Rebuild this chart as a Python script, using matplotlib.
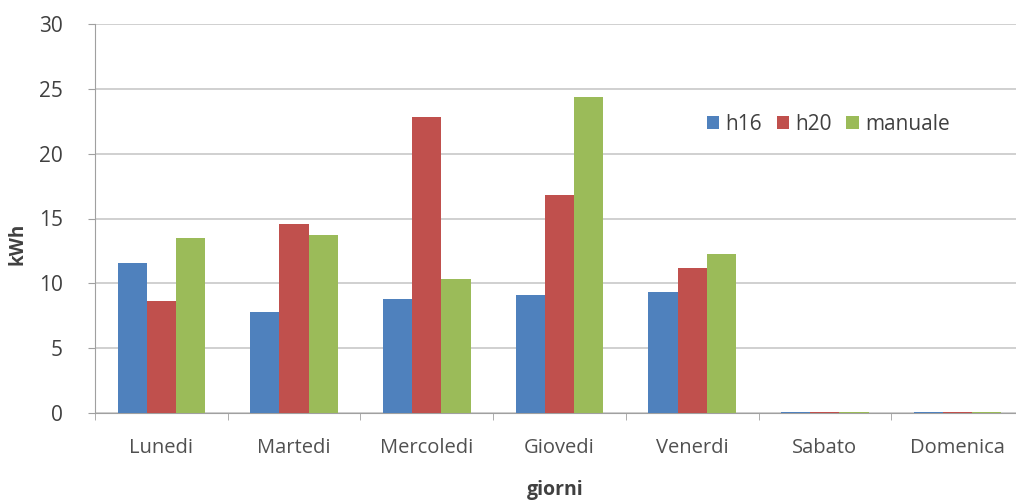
import matplotlib
matplotlib.use("Agg")
import matplotlib.pyplot as plt
import numpy as np

days = ["Lunedi", "Martedi", "Mercoledi", "Giovedi", "Venerdi", "Sabato", "Domenica"]
h16 = [11.6, 7.8, 8.8, 9.1, 9.3, 0.1, 0.1]
h20 = [8.6, 14.6, 22.8, 16.8, 11.2, 0.1, 0.1]
manuale = [13.5, 13.7, 10.3, 24.4, 12.3, 0.1, 0.1]
series_names = ["h16", "h20", "manuale"]
colors = ["#4f81bd", "#c0504d", "#9bbb59"]

plt.rcParams['font.family'] = ['Open Sans', 'DejaVu Sans']

fig = plt.figure(figsize=(10.16, 5.03), dpi=100)
ax = fig.add_axes([95/1016, 1-413/503, 1-95/1016, (413-24)/503])

x = np.arange(len(days))
w = 0.22
for i, (vals, name, c) in enumerate(zip([h16, h20, manuale], series_names, colors)):
    ax.bar(x + (i-1)*w, vals, width=w, color=c, label=name, zorder=3)

ax.set_xlim(-0.5, 6.44)
ax.set_ylim(0, 30)
ax.set_yticks(range(0, 31, 5))
ax.set_xticks(x)
ax.set_xticklabels(days)
ax.yaxis.grid(True, color="#c8c8c8", linewidth=1.2, zorder=0)
ax.set_axisbelow(True)
for s in ["top", "right"]:
    ax.spines[s].set_visible(False)
ax.spines["left"].set_color("#a0a0a0")
ax.spines["bottom"].set_color("#a0a0a0")
ax.tick_params(axis="y", length=5, color="#a0a0a0", labelsize=15, labelcolor="#404040", pad=18)
ax.tick_params(axis="x", length=0, labelsize=14.5, labelcolor="#505050", pad=18)
ax.set_xticks(np.arange(-0.5, 6.5, 1), minor=True)
ax.tick_params(axis="x", which="minor", length=5, color="#a0a0a0")

fig.text(18/1016, 1-244/503, "kWh", rotation=90, fontsize=13.5, fontweight="bold",
         color="#404040", ha="center", va="center")
fig.text(555/1016, 1-490/503, "giorni", fontsize=14, fontweight="bold",
         color="#404040", ha="center", va="center")

leg = ax.legend(loc="upper left", bbox_to_anchor=(0.655, 0.79), ncol=3, frameon=False,
                fontsize=15, handlelength=0.6, handleheight=0.6, handletextpad=0.3,
                columnspacing=0.7, labelcolor="#404040", borderaxespad=0)

fig.savefig("out.png", dpi=100)
